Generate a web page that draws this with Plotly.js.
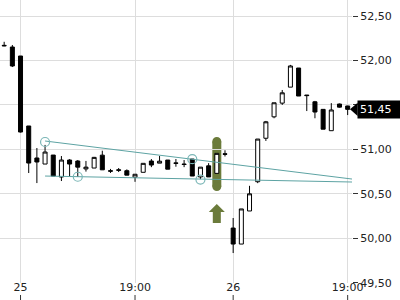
<!DOCTYPE html>
<html><head><meta charset="utf-8">
<script src="https://cdn.plot.ly/plotly-3.0.1.min.js"></script>
<style>html,body{margin:0;padding:0;background:#fff;}#c{width:400px;height:300px;}</style>
</head><body><div id="c"></div>
<script>
// candle index (time slots, gaps removed)
const idx = Array.from({length: 43}, (_, i) => i);
const openP  = [52.17, 52.151, 52.05, 51.263, 50.903, 50.835, 50.936, 50.689, 50.880, 50.869, 50.78, 50.79, 50.935, 50.76, 50.77, 50.76, 50.688, 50.742, 50.869, 50.845, 50.88, 50.848, 50.835, 50.891, 50.69, 50.815, 50.73, 50.95, 50.115, 49.935, 50.307, 50.636, 51.125, 51.366, 51.52, 51.70, 51.915, 51.611, 51.535, 51.45, 51.21, 51.51, 51.488];
const highP  = [52.21, 52.174, 52.05, 51.263, 51.015, 51.05, 50.936, 50.925, 50.89, 50.88, 50.87, 50.915, 50.985, 50.78, 50.79, 50.775, 50.72, 50.843, 50.891, 50.925, 50.88, 50.891, 50.88, 50.891, 50.80, 50.845, 50.955, 50.99, 50.228, 50.33, 50.59, 51.116, 51.32, 51.524, 51.668, 51.95, 51.915, 51.611, 51.545, 51.45, 51.52, 51.515, 51.49];
const lowP   = [52.16, 51.926, 51.19, 50.734, 50.621, 50.835, 50.70, 50.644, 50.70, 50.69, 50.75, 50.79, 50.77, 50.735, 50.745, 50.71, 50.635, 50.742, 50.80, 50.845, 50.777, 50.805, 50.80, 50.70, 50.665, 50.69, 50.73, 50.92, 49.834, 49.935, 50.307, 50.62, 51.095, 51.35, 51.50, 51.70, 51.60, 51.431, 51.35, 51.227, 51.21, 51.47, 51.386];
const closeP = [52.165, 51.938, 51.195, 50.846, 50.858, 50.970, 50.700, 50.880, 50.835, 50.80, 50.80, 50.91, 50.77, 50.755, 50.765, 50.71, 50.72, 50.843, 50.824, 50.867, 50.777, 50.843, 50.83, 50.70, 50.80, 50.69, 50.955, 50.945, 49.935, 50.33, 50.50, 51.116, 51.31, 51.524, 51.636, 51.938, 51.60, 51.605, 51.42, 51.227, 51.443, 51.475, 51.45];

const tickIdx  = [2, 16, 28, 42];
const tickText = ['25', '19:00', '26', '19:00'];
const yTicks   = [49.5, 50.0, 50.5, 51.0, 51.5, 52.0, 52.5];

// trend lines and touch points
const upperX = [5, 43], upperY = [51.094, 50.661];
const lowerX = [5, 43], lowerY = [50.700, 50.632];
const touchX = [5, 9, 23, 24], touchY = [51.083, 50.692, 50.89, 50.66];

// signal candle highlight
const signalIdx = 26;
const hlTop = 51.139, hlBottom = 50.532;
const arrowTip = 50.385, arrowNeck = 50.295, arrowBase = 50.172;

const teal = '#5da3a3', olive = '#6b7b3b';

const traces = [
  {type:'scatter', mode:'lines', x: upperX, y: upperY, line:{color:teal, width:1}, hoverinfo:'skip'},
  {type:'scatter', mode:'lines', x: lowerX, y: lowerY, line:{color:teal, width:1}, hoverinfo:'skip'},
  {type:'candlestick', x: idx, open: openP, high: highP, low: lowP, close: closeP,
   increasing:{line:{color:'#000', width:1}, fillcolor:'#ffffff'},
   decreasing:{line:{color:'#000', width:1}, fillcolor:'#000000'},
   whiskerwidth:0},
  {type:'scatter', mode:'markers', x: touchX, y: touchY,
   marker:{symbol:'circle-open', size:9, color:'#7ab6b6', line:{width:1.2}}, hoverinfo:'skip'}
];

const last = closeP[closeP.length-1];
const halfH = 0.075;
const rx = 0.55, ry = 0.05;
const shapes = [
  // highlight bar with rounded ends
  {type:'rect', layer:'below', xref:'x', yref:'y', x0:signalIdx-rx, x1:signalIdx+rx, y0:hlBottom+ry, y1:hlTop-ry, fillcolor:olive, line:{width:0}},
  {type:'circle', layer:'below', xref:'x', yref:'y', x0:signalIdx-rx, x1:signalIdx+rx, y0:hlTop-2*ry, y1:hlTop, fillcolor:olive, line:{width:0}},
  {type:'circle', layer:'below', xref:'x', yref:'y', x0:signalIdx-rx, x1:signalIdx+rx, y0:hlBottom, y1:hlBottom+2*ry, fillcolor:olive, line:{width:0}},
  // up arrow
  {type:'path', layer:'above', xref:'x', yref:'y',
   path:`M ${signalIdx},${arrowTip} L ${signalIdx+0.98},${arrowNeck} L ${signalIdx+0.49},${arrowNeck} L ${signalIdx+0.49},${arrowBase} L ${signalIdx-0.49},${arrowBase} L ${signalIdx-0.49},${arrowNeck} L ${signalIdx-0.98},${arrowNeck} Z`,
   fillcolor:olive, line:{width:0}},
  // last price pointer triangle
  {type:'path', layer:'above', xref:'paper', yref:'y',
   path:`M 0.9943,${last} L 1.016,${last+halfH} L 1.016,${last-halfH} Z`, fillcolor:'#000', line:{width:0}}
];
// x tick marks below the labels
tickIdx.forEach(t => shapes.push({type:'line', xref:'x', yref:'paper', x0:t, x1:t, y0:-0.0424, y1:-0.0601, line:{color:'#333', width:1}}));

const layout = {
  width:400, height:300,
  margin:{l:0, r:48, t:0, b:17},
  paper_bgcolor:'#fff', plot_bgcolor:'#fff',
  showlegend:false,
  separators:',.',
  font:{family:'DejaVu Sans', size:11, color:'#222'},
  xaxis:{type:'linear', range:[-0.51, 42.53], tickmode:'array', tickvals:tickIdx, ticktext:tickText,
         showgrid:true, gridcolor:'#dddddd', gridwidth:1, zeroline:false, showline:false, ticks:'',
         ticklabelstandoff:-4,
         rangeslider:{visible:false}, fixedrange:true, tickfont:{size:11, color:'#222'}},
  yaxis:{side:'right', range:[49.497, 52.68], tickmode:'array', tickvals:yTicks, tickformat:'.2f',
         showgrid:true, gridcolor:'#dddddd', gridwidth:1, zeroline:false, showline:false,
         ticks:'outside', ticklen:5, tickcolor:'#333', tickwidth:1, tickfont:{size:11, color:'#222'}},
  shapes: shapes,
  annotations:[{xref:'paper', yref:'y', x:1, xshift:5, y:last, xanchor:'left', yanchor:'middle',
    text: last.toFixed(2).replace('.', ',') + '  ', showarrow:false, bgcolor:'#000',
    font:{color:'#fff', size:11, family:'DejaVu Sans'}, borderpad:2}]
};
Plotly.newPlot('c', traces, layout, {staticPlot:true, displayModeBar:false});
</script></body></html>
